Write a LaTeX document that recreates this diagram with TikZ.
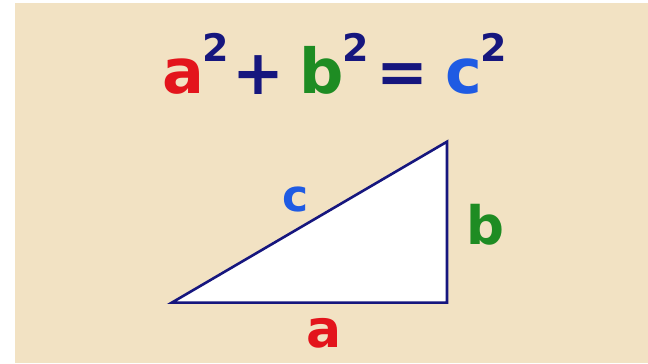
\documentclass[tikz,border=0pt]{standalone}
\usepackage{fontspec}
\setmainfont{DejaVu Sans}
\definecolor{beige}{HTML}{F2E2C3}
\definecolor{navy}{HTML}{16167E}
\definecolor{redA}{HTML}{E3141C}
\definecolor{greenB}{HTML}{1E8C23}
\definecolor{blueC}{HTML}{1F5BE3}
\tikzset{
  glyph/.style={inner sep=0pt, outer sep=0pt, anchor=base, font=\bfseries\fontsize{62}{62}\selectfont},
  supr/.style={inner sep=0pt, outer sep=0pt, anchor=base, text=navy, font=\bfseries\fontsize{38}{38}\selectfont},
  lbl/.style={inner sep=0pt, outer sep=0pt, anchor=base},
  tri/.style={draw=navy, line width=2.6pt, fill=white, line join=miter}
}
\begin{document}
\begin{tikzpicture}[x=1pt,y=1pt]
\useasboundingbox (0,0) rectangle (648,364);
\fill[white] (0,0) rectangle (648,364);
\fill[beige] (15,1) rectangle (648,361);
% equation
\node[glyph, text=redA] (ea) at (183.3,270) {a};
\node[supr] (s1) at (216,302.3) {2};
\node[glyph, text=navy] (plus) at (258.3,269) {+};
\node[glyph, text=greenB] (eb) at (321.7,270) {b};
\node[supr] (s2) at (356,302.3) {2};
\node[glyph, text=navy] (eq) at (402.3,270) {=};
\node[glyph, text=blueC] (ec) at (464,270) {c};
\node[supr] (s3) at (493.3,302.3) {2};
% triangle
\coordinate (A) at (171.7,61.3);
\coordinate (B) at (447,61.3);
\coordinate (C) at (447,222.3);
\draw[tri] (A) -- (B) -- (C) -- cycle;
% labels
\node[lbl, text=blueC, font=\bfseries\fontsize{44}{44}\selectfont] (lc) at (295.5,152.3) {c};
\node[lbl, text=greenB, font=\bfseries\fontsize{53}{53}\selectfont] (lb) at (485,119) {b};
\node[lbl, text=redA, font=\bfseries\fontsize{52}{52}\selectfont] (la) at (324,16) {a};
\end{tikzpicture}
\end{document}
